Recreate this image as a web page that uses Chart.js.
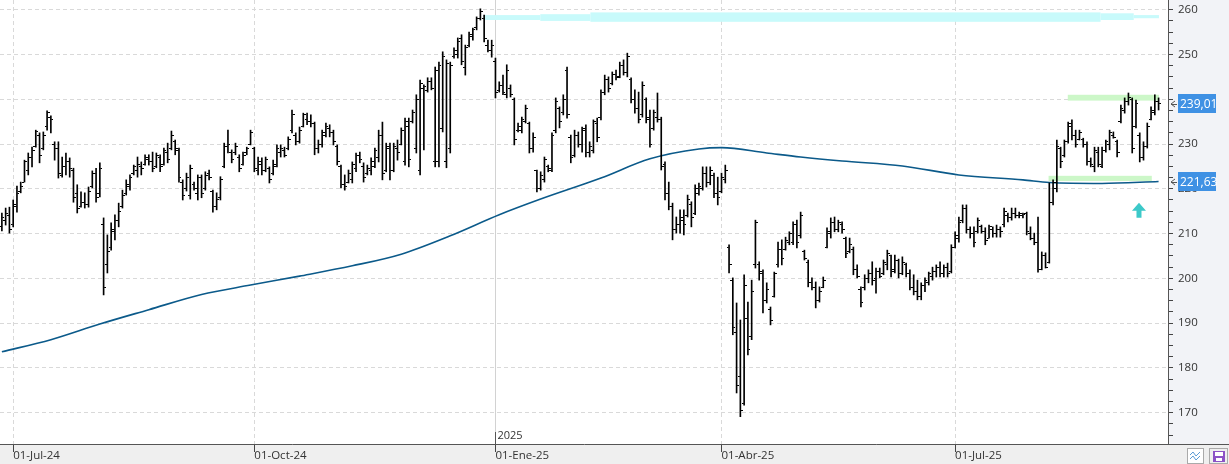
<!DOCTYPE html>
<html>
<head>
<meta charset="utf-8">
<script src="https://cdn.jsdelivr.net/npm/chart.js@4.4.1/dist/chart.umd.min.js"></script>
<style>
  html, body { margin: 0; padding: 0; background: #efefef; }
  #wrap { width: 1229px; height: 464px; position: relative; }
</style>
</head>
<body>
<div id="wrap"><canvas id="priceChart"></canvas></div>
<script>
// Sessions are counted from 01-Jul-24 (session 0); first bar is session -3
const firstSession = -3;

const highs = [
  214.6, 215.7, 215.9, 217.5, 220.6, 221.5, 226.4, 228.0, 229.3, 233.1,
  232.5, 232.7, 237.4, 236.3, 230.5, 230.5, 227.1, 228.0, 226.9, 224.6,
  220.9, 219.3, 219.1, 220.4, 224.0, 224.6, 225.8, 213.5, 209.7, 212.4,
  214.2, 216.8, 219.7, 222.0, 223.1, 225.3, 227.1, 226.0, 227.6, 227.6,
  228.2, 228.0, 227.6, 229.1, 230.2, 232.9, 230.9, 229.1, 222.0, 223.5,
  225.3, 221.5, 223.1, 223.1, 223.8, 224.2, 219.7, 219.1, 222.7, 230.2,
  233.1, 228.7, 230.2, 227.6, 228.2, 229.3, 233.1, 229.3, 227.1, 226.9,
  227.1, 224.9, 226.4, 229.8, 229.8, 229.3, 231.6, 237.6, 232.5, 233.8,
  236.9, 236.9, 236.5, 234.9, 230.9, 233.1, 234.7, 234.3, 233.1, 229.8,
  225.3, 223.1, 224.2, 226.0, 228.0, 228.2, 225.8, 225.3, 226.9, 229.1,
  233.1, 234.9, 230.2, 230.2, 230.2, 230.9, 233.6, 235.8, 235.8, 237.6,
  241.0, 244.3, 243.2, 244.8, 244.8, 247.2, 248.3, 250.6, 248.8, 248.3,
  251.5, 253.7, 254.4, 252.1, 255.0, 255.9, 258.4, 260.2, 258.8, 253.2,
  253.2, 249.2, 243.9, 245.4, 247.7, 243.2, 240.3, 234.7, 236.0, 238.7,
  234.9, 232.5, 224.2, 223.8, 227.1, 225.3, 232.5, 240.3, 238.3, 241.0,
  247.2, 232.0, 233.1, 232.7, 233.8, 234.3, 230.5, 235.4, 235.8, 242.1,
  245.4, 245.0, 246.1, 246.5, 248.3, 248.8, 250.3, 244.8, 242.1, 241.6,
  243.9, 240.3, 237.6, 237.6, 241.4, 236.0, 226.0, 221.5, 216.8, 213.7,
  215.3, 215.3, 218.6, 217.1, 220.9, 221.3, 224.9, 224.9, 224.9, 223.5,
  222.6, 223.5, 225.3, 207.5, 200.1, 194.5, 190.7, 200.8, 194.7, 199.6,
  213.0, 203.7, 201.9, 199.0, 193.6, 201.4, 208.1, 208.6, 209.2, 210.4,
  212.6, 213.0, 214.8, 206.3, 204.1, 200.1, 199.2, 198.1, 200.3, 211.3,
  213.5, 213.7, 213.0, 212.6, 209.2, 209.0, 207.0, 203.0, 198.1, 200.8,
  201.9, 203.7, 202.3, 202.3, 204.1, 206.3, 205.2, 205.2, 204.3, 204.8,
  203.4, 201.9, 200.8, 199.6, 199.0, 200.1, 201.4, 202.5, 203.0, 203.7,
  203.0, 203.4, 207.5, 210.4, 213.7, 216.4, 216.4, 211.5, 211.5, 213.5,
  211.9, 211.3, 211.9, 211.5, 211.9, 211.5, 215.7, 214.6, 215.7, 215.7,
  214.8, 214.6, 214.8, 211.5, 210.1, 213.7, 205.9, 205.7, 221.3, 222.0,
  230.9, 229.3, 230.9, 234.9, 235.4, 233.1, 233.1, 231.3, 230.5, 226.9,
  229.3, 229.3, 229.3, 230.9, 233.1, 232.7, 230.9, 238.7, 240.3, 241.4,
  240.3, 239.8, 232.5, 230.5, 234.7, 238.3, 241.0, 240.3
];
const lows = [
  210.6, 211.9, 210.1, 211.5, 214.8, 219.1, 221.5, 223.1, 224.9, 229.3,
  225.8, 228.7, 233.1, 232.5, 226.4, 222.4, 222.6, 223.1, 222.6, 217.0,
  214.6, 215.9, 215.7, 215.9, 220.2, 217.0, 218.2, 196.3, 201.2, 206.3,
  208.6, 211.5, 215.7, 218.6, 219.7, 223.1, 222.6, 223.1, 225.3, 225.3,
  223.8, 224.7, 223.8, 225.3, 225.8, 228.7, 227.6, 221.5, 217.5, 219.5,
  217.7, 219.7, 217.5, 218.0, 219.7, 222.0, 214.8, 215.3, 217.5, 224.7,
  228.0, 225.8, 227.6, 223.8, 225.3, 227.6, 229.8, 223.8, 223.1, 223.1,
  223.8, 221.3, 223.1, 224.9, 227.1, 227.1, 228.7, 232.5, 229.8, 230.2,
  233.8, 234.3, 233.8, 227.6, 228.0, 229.3, 231.6, 231.6, 229.8, 225.3,
  220.2, 219.7, 221.3, 221.3, 223.8, 225.8, 221.5, 223.1, 223.1, 224.7,
  226.0, 222.0, 223.8, 222.0, 223.8, 226.4, 229.8, 225.3, 224.9, 234.7,
  228.0, 223.1, 228.7, 241.6, 242.1, 224.9, 224.9, 232.7, 224.7, 228.0,
  249.2, 249.2, 247.7, 245.4, 251.7, 253.2, 255.5, 257.7, 252.8, 250.6,
  249.4, 240.3, 241.6, 241.0, 240.3, 240.5, 229.8, 232.7, 232.5, 234.7,
  228.0, 228.2, 219.3, 219.7, 221.5, 223.8, 223.8, 232.5, 233.6, 236.5,
  235.8, 225.8, 227.1, 229.3, 228.2, 227.1, 227.1, 228.0, 230.5, 235.4,
  241.0, 241.6, 243.2, 244.3, 244.8, 245.4, 245.0, 239.2, 236.9, 234.7,
  236.0, 234.7, 229.3, 233.1, 234.9, 224.2, 217.5, 215.3, 208.6, 210.1,
  210.1, 209.7, 213.7, 211.5, 214.2, 218.6, 219.7, 220.4, 220.9, 218.0,
  216.4, 219.1, 221.3, 201.2, 187.4, 174.4, 169.1, 171.7, 182.9, 186.3,
  202.3, 199.6, 192.3, 194.5, 189.6, 195.8, 202.5, 203.0, 206.3, 207.5,
  207.5, 206.8, 209.0, 204.1, 198.1, 197.4, 193.4, 194.7, 197.9, 206.8,
  209.0, 210.4, 210.4, 210.1, 204.6, 205.7, 200.8, 200.1, 193.6, 197.4,
  199.0, 198.5, 196.7, 200.1, 200.8, 201.9, 200.3, 201.2, 200.1, 200.8,
  200.3, 197.4, 196.3, 195.2, 195.2, 197.0, 198.5, 199.6, 200.3, 200.3,
  200.3, 200.3, 201.2, 206.8, 208.1, 212.4, 210.1, 209.0, 207.0, 210.1,
  210.1, 207.5, 209.0, 209.2, 209.2, 209.2, 211.5, 212.6, 213.0, 213.5,
  213.5, 213.5, 209.7, 208.6, 207.5, 201.4, 201.9, 202.3, 203.4, 216.4,
  219.3, 224.7, 227.1, 230.2, 230.9, 229.3, 230.9, 229.3, 225.3, 224.9,
  223.8, 224.9, 224.7, 228.2, 228.7, 231.3, 227.1, 234.7, 236.9, 238.7,
  228.0, 233.6, 226.0, 226.4, 229.1, 235.4, 236.5, 237.6
];
const opens = [
  211.5, 213.0, 214.0, 212.0, 216.0, 219.5, 221.5, 224.0, 227.0, 229.5,
  232.0, 229.0, 234.0, 236.0, 230.0, 229.0, 223.0, 225.0, 226.0, 224.0,
  219.0, 216.0, 217.0, 216.5, 220.5, 223.5, 219.0, 212.0, 203.0, 207.0,
  210.5, 213.0, 216.0, 219.0, 220.5, 223.5, 224.0, 225.0, 225.5, 226.5,
  226.0, 225.0, 227.0, 225.5, 228.0, 229.0, 230.5, 228.5, 221.5, 220.0,
  218.5, 221.0, 219.0, 222.5, 220.0, 223.5, 219.5, 216.0, 218.0, 225.0,
  229.5, 228.0, 228.0, 227.0, 225.5, 228.0, 230.0, 229.0, 224.0, 225.5,
  224.0, 224.5, 223.5, 225.0, 228.0, 228.5, 229.0, 233.0, 232.0, 230.5,
  234.0, 235.5, 235.0, 234.5, 229.0, 230.0, 232.0, 233.5, 232.5, 229.5,
  225.0, 221.0, 221.5, 222.0, 224.5, 227.5, 225.0, 223.5, 224.0, 225.0,
  227.0, 232.0, 224.0, 229.5, 224.0, 229.0, 230.0, 226.0, 234.0, 235.0,
  229.0, 224.0, 242.5, 242.0, 244.0, 226.0, 226.0, 233.5, 226.0, 229.0,
  249.5, 250.0, 253.5, 247.0, 252.0, 254.0, 256.0, 258.0, 258.0, 252.0,
  251.0, 248.5, 242.0, 243.0, 241.0, 242.5, 240.0, 233.0, 233.0, 235.0,
  234.5, 229.0, 224.0, 220.0, 222.0, 225.0, 224.0, 233.0, 238.0, 237.0,
  246.5, 231.5, 227.5, 232.0, 230.0, 233.5, 228.0, 228.5, 234.5, 236.0,
  241.5, 244.5, 243.5, 245.5, 245.0, 247.5, 246.0, 244.5, 240.0, 238.0,
  236.5, 240.0, 236.0, 233.5, 236.0, 235.5, 225.5, 219.0, 216.0, 211.0,
  212.0, 213.0, 214.0, 216.5, 214.5, 219.0, 220.0, 223.5, 221.5, 223.0,
  219.0, 219.5, 222.0, 207.0, 199.5, 188.0, 178.0, 172.0, 191.0, 187.0,
  203.0, 203.0, 201.0, 195.0, 193.0, 196.0, 203.0, 206.5, 206.5, 208.0,
  208.0, 212.0, 209.5, 206.0, 203.5, 199.0, 198.0, 195.0, 198.0, 207.0,
  210.0, 212.5, 211.0, 212.0, 209.0, 206.0, 206.5, 202.0, 197.5, 198.0,
  200.0, 201.0, 200.0, 201.5, 201.0, 203.0, 205.0, 202.0, 204.0, 201.0,
  203.0, 201.0, 198.0, 197.0, 196.0, 198.5, 199.0, 200.5, 201.5, 202.5,
  201.0, 202.5, 201.5, 207.0, 209.0, 213.0, 215.5, 211.0, 210.0, 210.5,
  211.5, 210.5, 209.0, 211.0, 210.0, 211.0, 212.0, 214.0, 213.5, 214.5,
  214.0, 214.0, 214.5, 210.0, 209.0, 208.0, 202.0, 205.0, 203.5, 217.0,
  220.0, 229.0, 227.5, 230.5, 234.5, 232.0, 231.0, 231.0, 230.0, 226.0,
  225.0, 228.0, 225.0, 228.5, 230.0, 232.0, 230.5, 235.0, 237.5, 239.5,
  240.0, 234.0, 232.0, 227.0, 229.5, 235.5, 237.0, 239.5
];
const closes = [
  213.5, 214.5, 211.0, 216.5, 219.0, 220.5, 226.0, 227.0, 228.5, 232.8,
  227.5, 232.0, 237.0, 235.5, 229.0, 223.5, 225.0, 226.0, 224.5, 218.0,
  215.5, 217.0, 216.5, 219.5, 223.5, 218.0, 224.5, 198.0, 206.0, 211.0,
  213.0, 215.0, 218.5, 221.0, 222.5, 225.0, 225.5, 224.5, 227.0, 226.0,
  224.5, 227.5, 225.0, 228.5, 226.5, 232.0, 229.0, 222.5, 218.5, 222.5,
  224.5, 220.0, 222.5, 219.0, 223.0, 222.5, 216.0, 217.5, 222.0, 229.5,
  230.0, 226.5, 229.5, 224.5, 227.5, 229.0, 232.5, 224.5, 226.0, 224.0,
  226.5, 222.0, 225.5, 229.0, 229.0, 227.5, 231.0, 236.5, 230.5, 233.0,
  236.5, 235.0, 234.5, 229.0, 230.0, 232.5, 234.0, 232.5, 230.5, 226.0,
  221.0, 220.5, 223.5, 225.5, 227.5, 226.5, 222.5, 224.5, 226.0, 228.5,
  232.0, 223.5, 229.0, 224.0, 229.5, 228.0, 233.0, 235.0, 226.5, 237.0,
  240.0, 243.5, 242.8, 244.0, 242.5, 246.5, 247.5, 249.5, 248.0, 247.5,
  251.0, 253.0, 248.5, 251.5, 254.5, 255.5, 258.0, 259.5, 253.5, 251.0,
  252.0, 241.5, 243.0, 241.5, 246.5, 241.0, 231.0, 234.0, 235.5, 238.0,
  229.0, 231.5, 220.0, 223.0, 226.5, 224.5, 232.0, 239.5, 235.0, 240.0,
  236.5, 227.0, 232.0, 230.0, 233.0, 228.0, 229.5, 235.0, 231.5, 241.5,
  244.5, 242.5, 245.5, 244.8, 247.5, 246.0, 249.5, 240.0, 238.0, 235.5,
  243.0, 235.5, 230.0, 237.0, 235.5, 225.0, 219.0, 216.0, 211.0, 212.0,
  213.5, 212.0, 217.5, 213.5, 220.0, 220.5, 223.5, 221.5, 224.0, 219.0,
  218.0, 222.5, 224.0, 203.0, 189.0, 176.0, 170.5, 198.5, 184.0, 197.0,
  212.5, 201.5, 195.0, 197.5, 190.5, 201.0, 206.5, 204.5, 208.5, 210.0,
  212.0, 208.0, 214.0, 204.5, 199.0, 198.0, 195.0, 197.0, 199.5, 210.5,
  212.5, 211.0, 212.5, 211.0, 205.5, 207.5, 202.0, 200.5, 194.5, 200.0,
  201.0, 199.5, 201.5, 200.5, 203.5, 205.5, 201.5, 204.0, 201.0, 203.5,
  201.0, 198.0, 197.0, 196.0, 198.5, 199.5, 201.0, 201.5, 202.5, 201.0,
  202.5, 201.0, 207.0, 209.5, 212.5, 215.5, 211.0, 210.0, 208.0, 213.0,
  210.5, 208.5, 211.5, 210.0, 211.0, 210.5, 215.0, 213.5, 214.5, 214.0,
  214.5, 214.2, 210.5, 209.0, 208.0, 202.0, 205.0, 202.5, 217.0, 221.5,
  229.5, 226.0, 230.5, 234.0, 232.0, 230.0, 232.5, 230.0, 226.0, 225.5,
  228.5, 225.5, 228.5, 230.5, 232.5, 231.5, 228.0, 238.0, 239.5, 240.5,
  229.0, 239.0, 227.0, 229.5, 234.0, 237.5, 239.5, 239.01
];

// 200-session moving average, read at a few sessions
const maSessions = [-3, 10, 23, 36, 50, 63, 76, 90, 103, 116, 129, 140, 156, 169, 182, 188, 200, 209, 220, 236, 251, 268, 275, 289, 304];
const maValues   = [183.6, 186.3, 189.8, 193.0, 196.4, 198.5, 200.5, 202.8, 205.4, 209.5, 214.2, 217.7, 222.4, 226.7, 228.9, 229.2, 228.0, 227.1, 226.2, 225.1, 223.1, 222.0, 221.4, 221.2, 221.63];

// x axis: session of each dated tick and its label
const tickSessions = [0, 64, 128, 188, 250];
const tickLabels = ["01-Jul-24", "01-Oct-24", "01-Ene-25", "01-Abr-25", "01-Jul-25"];
const yearSession = 128;
const yearLabel = "2025";

// y axis
const yMajorTicks = [170, 180, 190, 200, 210, 220, 230, 240, 250, 260];
const yMinorStep = 2.5;

// drawn zones: cyan ribbon near the high, green resistance / support boxes
const cyanFrom = [124.8, 139.9, 153.2, 288.6, 297.4];
const cyanTo   = [139.9, 153.2, 288.6, 297.4, 304.1];
const cyanHigh = [258.8, 259.0, 259.4, 259.2, 258.8];
const cyanLow  = [257.7, 257.5, 257.3, 257.7, 258.1];
const greenFrom = [279.9, 274.8];
const greenTo   = [304.1, 302.2];
const greenHigh = [241.0, 222.9];
const greenLow  = [239.7, 221.75];
const arrowSession = 298.8;
const arrowTip = 216.9;

const FONT = "'Open Sans', 'DejaVu Sans', sans-serif";

function tickImage(side) {
    const c = document.createElement("canvas");
    c.width = 5; c.height = 1;
    const g = c.getContext("2d");
    g.fillStyle = "#000";
    g.fillRect(side === "left" ? 0 : 3, 0, 2, 1);
    return c;
}

function fmt(v) {
    return v.toFixed(2).replace(".", ",");
}

const rangeData = highs.map((h, i) => ({ x: firstSession + i, y: [lows[i], h] }));
const openData = opens.map((v, i) => ({ x: firstSession + i, y: v }));
const closeData = closes.map((v, i) => ({ x: firstSession + i, y: v }));
const maData = maSessions.map((s, i) => ({ x: s, y: maValues[i] }));

// Backgrounds, zones, year marker, arrow and last-value boxes
const decoPlugin = {
    id: "deco",
    beforeDraw(chart) {
        const { ctx, chartArea: a } = chart;
        ctx.save();
        ctx.fillStyle = "#efefef";
        ctx.fillRect(0, 0, chart.width, chart.height);
        ctx.fillStyle = "#f2f3f7";
        ctx.fillRect(a.right, 0, chart.width - a.right, a.bottom);
        ctx.fillStyle = "#ffffff";
        ctx.fillRect(a.left, a.top, a.right - a.left, a.bottom - a.top);
        ctx.restore();
    },
    beforeDatasetsDraw(chart) {
        const { ctx, chartArea: a, scales: { x, y } } = chart;
        ctx.save();
        // year separator
        const yx = Math.round(x.getPixelForValue(yearSession)) + 0.5;
        ctx.strokeStyle = "#d2d2d2";
        ctx.lineWidth = 1;
        ctx.beginPath();
        ctx.moveTo(yx, a.top);
        ctx.lineTo(yx, a.bottom);
        ctx.stroke();
        // cyan ribbon
        ctx.fillStyle = "#c8fafb";
        cyanFrom.forEach((f, i) => {
            const x1 = x.getPixelForValue(f), x2 = x.getPixelForValue(cyanTo[i]);
            const y1 = y.getPixelForValue(cyanHigh[i]), y2 = y.getPixelForValue(cyanLow[i]);
            ctx.fillRect(x1, y1, x2 - x1, y2 - y1);
        });
        // green boxes
        ctx.fillStyle = "#ccf7c8";
        greenFrom.forEach((f, i) => {
            const x1 = x.getPixelForValue(f), x2 = x.getPixelForValue(greenTo[i]);
            const y1 = y.getPixelForValue(greenHigh[i]), y2 = y.getPixelForValue(greenLow[i]);
            ctx.fillRect(x1, y1, x2 - x1, y2 - y1);
        });
        ctx.restore();
    },
    afterDraw(chart) {
        const { ctx, chartArea: a, scales: { x, y } } = chart;
        ctx.save();
        // axis line continues under the price panel
        ctx.strokeStyle = "#555";
        ctx.lineWidth = 1;
        ctx.beginPath();
        ctx.moveTo(a.right, a.bottom + 0.5);
        ctx.lineTo(chart.width, a.bottom + 0.5);
        ctx.stroke();

        // year tick and label
        const yx = Math.round(x.getPixelForValue(yearSession)) + 0.5;
        ctx.beginPath();
        ctx.moveTo(yx, a.bottom - 12);
        ctx.lineTo(yx, a.bottom);
        ctx.stroke();
        ctx.fillStyle = "#333";
        ctx.font = "11px " + FONT;
        ctx.textBaseline = "middle";
        ctx.fillText(yearLabel, yx + 2, a.bottom - 8);

        // cyan arrow
        const ax = x.getPixelForValue(arrowSession);
        const ay = y.getPixelForValue(arrowTip);
        ctx.fillStyle = "#3cc9c9";
        ctx.beginPath();
        ctx.moveTo(ax, ay);
        ctx.lineTo(ax + 7, ay + 8);
        ctx.lineTo(ax + 2.5, ay + 8);
        ctx.lineTo(ax + 2.5, ay + 15);
        ctx.lineTo(ax - 2.5, ay + 15);
        ctx.lineTo(ax - 2.5, ay + 8);
        ctx.lineTo(ax - 7, ay + 8);
        ctx.closePath();
        ctx.fill();

        // last value boxes
        const lastVals = [closes[closes.length - 1], maValues[maValues.length - 1]];
        lastVals.forEach(v => {
            const py = Math.round(y.getPixelForValue(v));
            ctx.fillStyle = "#3f91e4";
            ctx.fillRect(a.right + 10, py - 10, 38, 19);
            ctx.fillStyle = "#ffffff";
            ctx.font = "12px " + FONT;
            ctx.textBaseline = "middle";
            ctx.fillText(fmt(v), a.right + 12, py + 0.5);
            ctx.strokeStyle = "#555";
            ctx.beginPath();
            ctx.moveTo(a.right + 7, py - 3);
            ctx.lineTo(a.right + 3, py);
            ctx.lineTo(a.right + 7, py + 3);
            ctx.moveTo(a.right + 3, py + 0.5);
            ctx.lineTo(a.right + 9, py + 0.5);
            ctx.stroke();
        });

        // small buttons in the lower right corner
        ctx.fillStyle = "#ffffff";
        ctx.strokeStyle = "#aaaaaa";
        ctx.fillRect(1187, 448, 16, 15);
        ctx.strokeRect(1187.5, 448.5, 16, 15);
        ctx.strokeRect(1209.5, 448.5, 18, 15);
        ctx.strokeStyle = "#5b9bd5";
        ctx.beginPath();
        ctx.moveTo(1190, 455); ctx.lineTo(1193, 452); ctx.lineTo(1196, 456); ctx.lineTo(1200, 452);
        ctx.moveTo(1190, 459); ctx.lineTo(1193, 456); ctx.lineTo(1196, 460); ctx.lineTo(1200, 456);
        ctx.stroke();
        ctx.fillStyle = "#8c52c6";
        ctx.fillRect(1213, 451, 12, 11);
        ctx.fillStyle = "#ffffff";
        ctx.fillRect(1215, 452, 8, 4);
        ctx.fillRect(1216, 458, 6, 3);
        ctx.restore();
    }
};

const chart = new Chart(document.getElementById("priceChart"), {
    type: "bar",
    data: {
        datasets: [
            {
                type: "bar",
                data: rangeData,
                backgroundColor: "#000",
                borderWidth: 0,
                barThickness: 1,
                grouped: false
            },
            {
                type: "line",
                data: openData,
                showLine: false,
                pointStyle: tickImage("left"),
                pointRadius: 2,
                pointHoverRadius: 0,
                pointBorderWidth: 0
            },
            {
                type: "line",
                data: closeData,
                showLine: false,
                pointStyle: tickImage("right"),
                pointRadius: 2,
                pointHoverRadius: 0,
                pointBorderWidth: 0
            },
            {
                type: "line",
                data: maData,
                borderColor: "#0b5a8a",
                borderWidth: 1.6,
                pointRadius: 0,
                pointHoverRadius: 0,
                cubicInterpolationMode: "monotone",
                fill: false
            }
        ]
    },
    options: {
        responsive: true,
        maintainAspectRatio: false,
        animation: false,
        devicePixelRatio: 1,
        events: [],
        layout: { padding: 0, autoPadding: false },
        plugins: {
            legend: { display: false },
            tooltip: { enabled: false }
        },
        scales: {
            x: {
                type: "linear",
                position: "bottom",
                min: -3.5,
                max: 306.5,
                offset: false,
                afterBuildTicks: s => { s.ticks = tickSessions.map(v => ({ value: v })); },
                afterFit: s => { s.height = 20; s.paddingLeft = 0; s.paddingRight = 0; },
                ticks: {
                    autoSkip: false,
                    maxRotation: 0,
                    align: "start",
                    padding: -3,
                    color: "#333",
                    font: { family: FONT, size: 11.5 },
                    callback: v => tickLabels[tickSessions.indexOf(v)]
                },
                grid: {
                    offset: false,
                    color: c => (c.tick && c.tick.value === yearSession) ? "rgba(0,0,0,0)" : "#d9d9d9",
                    tickColor: "#444",
                    tickLength: 8
                },
                border: { color: "#555", width: 1, dash: [4, 3] }
            },
            y: {
                type: "linear",
                position: "right",
                min: 163.0,
                max: 262.17,
                afterBuildTicks: s => {
                    const t = [];
                    for (let v = yMajorTicks[0] - yMinorStep * 2; v <= yMajorTicks[yMajorTicks.length - 1]; v += yMinorStep) t.push({ value: v });
                    s.ticks = t;
                },
                afterFit: s => { s.width = 61; s.paddingTop = 0; s.paddingBottom = 0; },
                ticks: {
                    autoSkip: false,
                    padding: 5,
                    color: "#333",
                    font: { family: FONT, size: 11.5 },
                    callback: v => yMajorTicks.includes(v) ? String(v) : ""
                },
                grid: {
                    color: c => (c.tick && yMajorTicks.includes(c.tick.value)) ? "#d9d9d9" : "rgba(0,0,0,0)",
                    tickColor: "#444",
                    tickLength: 5
                },
                border: { color: "#555", width: 1, dash: [4, 3] }
            }
        }
    },
    plugins: [decoPlugin]
});
</script>
</body>
</html>
